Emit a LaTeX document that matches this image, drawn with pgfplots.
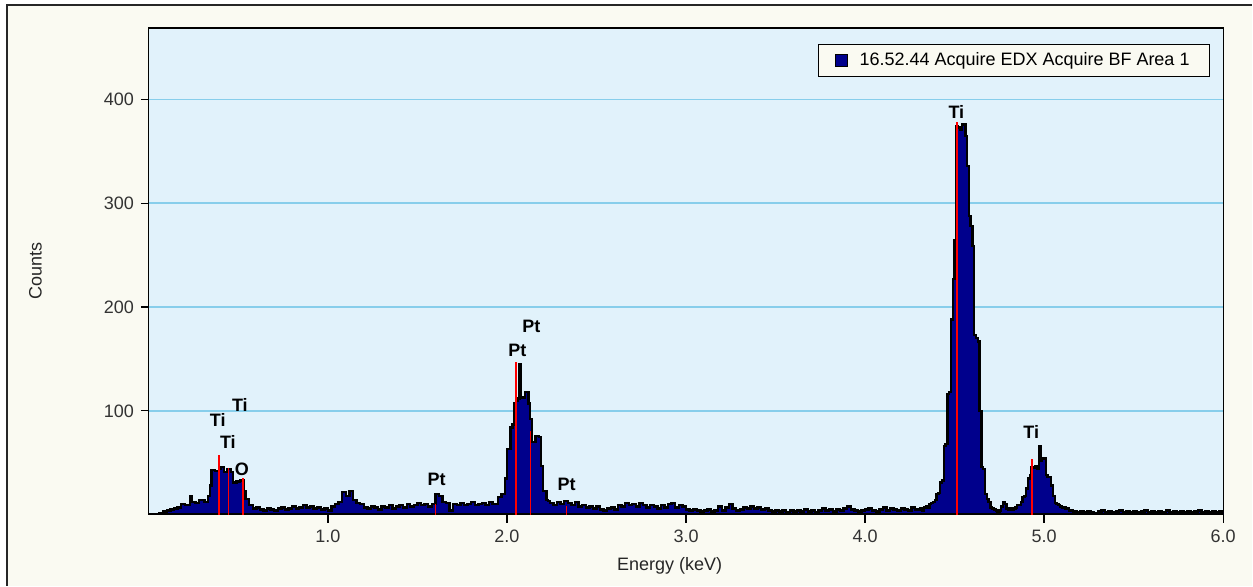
\documentclass[border=0pt]{standalone}
\usepackage{fontspec}
\setmainfont{Liberation Sans}
\usepackage{pgfplots}
\usepackage{pgfplotstable}
\pgfplotsset{compat=1.18}
\definecolor{cream}{RGB}{250,250,242}
\definecolor{plotbg}{RGB}{225,242,251}
\definecolor{gridblue}{RGB}{135,206,235}
\definecolor{specblue}{RGB}{0,0,140}
\pgfplotstableread{
x y
0.00 0
0.06 1
0.08 3
0.10 4
0.12 5
0.14 6
0.16 7
0.18 10
0.20 9
0.23 18
0.24 12
0.26 11
0.28 14
0.31 12
0.33 18
0.34 28
0.35 43
0.37 42
0.39 44
0.40 46
0.42 41
0.44 44
0.46 41
0.47 31
0.49 32
0.51 33
0.53 23
0.54 15
0.56 9
0.58 6
0.60 7
0.62 5
0.64 4
0.66 6
0.68 5
0.70 4
0.72 6
0.74 7
0.76 5
0.78 6
0.80 8
0.82 6
0.84 7
0.86 9
0.88 7
0.90 8
0.92 6
0.94 7
0.96 5
0.98 6
1.00 4
1.02 8
1.04 10
1.06 12
1.08 22
1.10 18
1.12 23
1.14 14
1.16 11
1.18 10
1.20 7
1.22 6
1.24 8
1.26 7
1.28 5
1.30 8
1.32 7
1.34 9
1.36 6
1.38 8
1.40 9
1.42 7
1.44 10
1.46 8
1.48 9
1.50 11
1.52 9
1.54 10
1.56 8
1.58 10
1.60 20
1.62 18
1.64 12
1.66 11
1.68 4
1.70 10
1.72 9
1.74 11
1.76 9
1.78 10
1.80 12
1.82 9
1.84 10
1.86 11
1.88 9
1.90 12
1.92 10
1.94 10
1.95 17
1.97 20
1.99 35
2.00 63
2.02 84
2.03 87
2.04 107
2.05 110
2.06 112
2.07 145
2.08 113
2.10 118
2.12 107
2.13 92
2.14 70
2.16 76
2.18 75
2.19 47
2.20 23
2.22 14
2.23 13
2.24 11
2.26 9
2.28 12
2.30 10
2.32 13
2.34 11
2.36 9
2.38 12
2.40 8
2.42 9
2.44 7
2.46 8
2.48 6
2.50 8
2.52 5
2.54 4
2.56 6
2.58 7
2.60 5
2.62 9
2.64 8
2.66 11
2.68 9
2.70 10
2.72 8
2.74 11
2.76 9
2.78 7
2.80 9
2.82 8
2.84 6
2.86 9
2.88 7
2.90 10
2.92 11
2.94 7
2.96 9
2.98 8
3.00 5
3.02 4
3.04 5
3.06 4
3.08 3
3.10 4
3.12 5
3.14 3
3.16 4
3.18 8
3.20 4
3.22 7
3.24 10
3.26 6
3.28 4
3.30 5
3.32 7
3.34 6
3.36 8
3.38 6
3.40 7
3.42 5
3.44 6
3.46 4
3.48 3
3.50 4
3.52 3
3.54 4
3.56 2
3.58 4
3.60 3
3.62 4
3.64 3
3.66 5
3.68 3
3.70 4
3.72 2
3.74 4
3.76 6
3.78 4
3.80 5
3.82 3
3.84 5
3.86 4
3.88 6
3.90 8
3.92 5
3.94 4
3.96 3
3.98 4
4.00 5
4.02 6
4.04 4
4.06 3
4.08 5
4.10 7
4.12 4
4.14 6
4.16 5
4.18 4
4.20 6
4.22 5
4.24 4
4.26 7
4.28 5
4.30 5
4.31 6
4.32 4
4.33 7
4.34 8
4.35 7
4.36 10
4.37 11
4.38 12
4.39 14
4.40 20
4.41 21
4.42 31
4.43 33
4.44 66
4.45 68
4.46 116
4.47 118
4.48 188
4.49 227
4.50 264
4.51 374
4.52 373
4.53 371
4.54 376
4.55 376
4.56 365
4.57 336
4.58 288
4.59 278
4.60 259
4.61 173
4.62 170
4.63 167
4.64 100
4.65 46
4.66 44
4.67 20
4.68 15
4.69 12
4.70 7
4.71 6
4.72 5
4.73 4
4.74 3
4.75 4
4.76 8
4.77 12
4.78 10
4.79 6
4.80 5
4.81 6
4.82 5
4.83 6
4.84 7
4.85 9
4.86 9
4.87 12
4.88 17
4.89 18
4.90 25
4.91 35
4.92 38
4.93 46
4.94 45
4.95 47
4.96 44
4.97 66
4.98 52
4.99 54
5.00 54
5.01 38
5.02 36
5.03 36
5.04 28
5.05 18
5.06 11
5.07 10
5.08 9
5.09 8
5.10 7
5.12 6
5.14 4
5.16 3
5.18 2
5.20 3
5.22 2
5.24 3
5.26 2
5.28 1
5.30 3
5.32 4
5.34 2
5.36 3
5.38 2
5.40 3
5.42 4
5.44 2
5.46 3
5.48 2
5.50 3
5.52 2
5.54 3
5.56 4
5.58 2
5.60 3
5.62 2
5.64 3
5.66 2
5.68 4
5.70 2
5.72 3
5.74 2
5.76 3
5.78 2
5.80 3
5.82 2
5.84 3
5.86 4
5.88 2
5.90 3
5.92 2
5.94 3
5.96 2
5.98 3
6.00 3
}\spectrum
\begin{document}
\begin{tikzpicture}
\fill[white] (0,0) rectangle (626.5pt,293pt);
\fill[cream] (3.5pt,0) rectangle (626.5pt,290.5pt);
\draw[line width=0.9pt, black!85] (3.5pt,0) -- (3.5pt,290.5pt) -- (626.5pt,290.5pt);
\useasboundingbox (0,0) rectangle (626.5pt,293pt);
\begin{axis}[
  at={(74.5pt,35.5pt)}, anchor=south west,
  width=537.5pt, height=243.5pt, scale only axis,
  xmin=0, xmax=6, ymin=0, ymax=469,
  axis background/.style={fill=plotbg},
  axis line style={line width=0.6pt, black},
  tick align=outside, tick pos=left,
  major tick length=4pt,
  tick style={black, line width=0.6pt},
  xtick={1,2,3,4,5,6}, ytick={100,200,300,400},
  ymajorgrids, grid style={gridblue, line width=0.9pt},
  /pgf/number format/assume math mode=true,
  xticklabel style={/pgf/number format/.cd, fixed, fixed zerofill, precision=1},
  ticklabel style={font=\fontsize{9}{10}\selectfont, text=black!80},
  xlabel={Energy (keV)}, ylabel={Counts},
  label style={font=\fontsize{9}{10}\selectfont, text=black!85},
  xlabel style={at={(axis description cs:0.4847,0)}, yshift=-25.5pt, anchor=center},
  ylabel style={at={(axis description cs:-0.1056,0.5)}, anchor=center},
  legend style={at={(axis description cs:1,1)}, anchor=north east, xshift=-6.5pt, yshift=-8pt,
    draw=black, line width=0.6pt, fill=cream, font=\fontsize{9}{10}\selectfont,
    inner xsep=8pt, inner ysep=2pt,
    /tikz/every odd column/.append style={column sep=4pt}},
  legend image code/.code={\draw[fill=specblue, draw=black, line width=0.4pt] (0pt,-3pt) rectangle (6pt,3pt);},
]
\addplot[const plot, fill=specblue, draw=black, line width=1.2pt] table[x=x,y=y] {\spectrum} \closedcycle;
\addlegendentry{16.52.44 Acquire EDX Acquire BF Area 1}
\addplot[ycomb, red, line width=0.8pt, forget plot] coordinates {
(0.393,57) (0.445,45) (0.525,35) (1.600,10) (2.052,147) (2.132,81) (2.333,8) (4.515,378) (4.932,54)};
\begin{scope}[every node/.style={font=\bfseries\fontsize{9}{10}\selectfont}]
\node at (axis cs:0.385,91) {Ti};
\node at (axis cs:0.441,70) {Ti};
\node at (axis cs:0.508,106) {Ti};
\node at (axis cs:0.519,44) {O};
\node at (axis cs:1.607,34) {Pt};
\node at (axis cs:2.058,158) {Pt};
\node at (axis cs:2.136,181) {Pt};
\node at (axis cs:2.333,29) {Pt};
\node at (axis cs:4.51,388) {Ti};
\node at (axis cs:4.928,80) {Ti};
\end{scope}
\end{axis}
\end{tikzpicture}
\end{document}
